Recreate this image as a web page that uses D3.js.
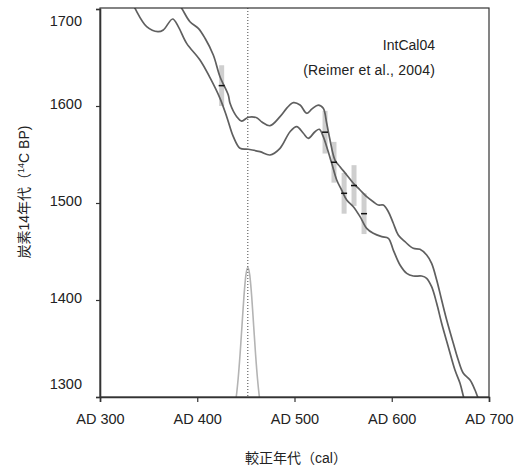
<!DOCTYPE html>
<html>
<head>
<meta charset="utf-8">
<script src="https://cdn.jsdelivr.net/npm/d3@7"></script>
<style>
  html, body { margin: 0; padding: 0; background: #fff; }
  svg { display: block; }
  text { font-family: "Liberation Sans", Arial, "Noto Sans CJK JP", sans-serif; fill: #222; }
</style>
</head>
<body>
<svg id="chart" width="516" height="465"></svg>
<script>
// Calibrated age axis (AD) and radiocarbon age axis (14C BP)
const xTicks = [300, 400, 500, 600, 700];
const yTicks = [1300, 1400, 1500, 1600, 1700];

// IntCal04 calibration band: upper edge (year, 14C BP)
const bandUpperYears = [378, 384, 392.5, 401.1, 408, 416.5, 423.4, 431.9, 433.7, 440.6, 445.7, 452.5, 461.1, 466.5, 474.8, 485.1, 492.3, 498.8, 505.7, 512.6, 518, 524.5, 529.6, 533.1, 536.5, 541.6, 546.8, 553.7, 560.5, 567.4, 574.2, 581, 586.2, 591.3, 596.5, 601.6, 606.7, 613.6, 622.1, 629, 635.9, 641, 646.2, 651.3, 656.5, 663.3, 668.4, 673.6, 680.5, 685.6, 688, 690.7];
const bandUpperValues = [1709, 1700.7, 1686.9, 1680.1, 1669.8, 1652.6, 1630.2, 1611.3, 1602.8, 1589, 1584.5, 1588.4, 1587.9, 1583.5, 1579.7, 1589, 1598, 1603.4, 1601, 1592.5, 1597, 1601, 1597.6, 1582.2, 1565, 1544.3, 1537.4, 1528.9, 1520.3, 1513.4, 1506.5, 1501.3, 1497.9, 1497.9, 1491, 1479.1, 1467, 1460.1, 1453.3, 1452.3, 1446.4, 1437.8, 1420.6, 1400, 1379.4, 1355.4, 1338.1, 1324.4, 1317.5, 1307.2, 1301, 1294.8];

// IntCal04 calibration band: lower edge (year, 14C BP)
const bandLowerYears = [331.9, 336, 348, 359.6, 365.1, 374.7, 380.5, 389.1, 402.8, 413.1, 423.4, 430.3, 437.1, 444, 452.5, 464.5, 474.8, 485.1, 495.4, 502.3, 509.1, 514.2, 521.1, 525.5, 529.6, 533.1, 538.3, 543.4, 548.4, 553.7, 560.5, 567.4, 574.2, 581, 589.7, 596.5, 601.6, 608.5, 615.4, 622.1, 630.7, 635.9, 641, 646.2, 651.3, 658.1, 665, 670.2, 673.6, 675.3];
const bandLowerValues = [1709, 1700.6, 1681.8, 1676.6, 1678.4, 1689.7, 1681.8, 1664.6, 1647.4, 1629.2, 1607.9, 1589, 1568.4, 1556.4, 1555.4, 1552.9, 1549.5, 1556.4, 1573.5, 1578.7, 1571.9, 1566.7, 1573.5, 1576, 1568.4, 1558, 1540.9, 1523.7, 1513.4, 1503.1, 1496.2, 1485.9, 1473.9, 1468.8, 1465.3, 1463.6, 1451.5, 1436.1, 1427.5, 1424.7, 1424.7, 1422.4, 1413.7, 1396.6, 1376, 1351.9, 1327.8, 1314.1, 1301, 1294.8];

// Measured samples: calendar position, 14C age and 1-sigma error
const sampleYears = [425.1, 531.4, 540.6, 551, 561.2, 571.5];
const sampleAges = [1621, 1573, 1542, 1510, 1518, 1489];
const sampleErrors = [21, 22, 21, 21, 21, 21];

// Calibrated date probability (relative) and the best-fit date
const probYears = [436, 438, 440, 442, 444, 446, 448, 450, 452, 454, 456, 458, 460, 462, 464, 466, 468];
const probValues = [0.035, 0.076, 0.15, 0.27, 0.43, 0.62, 0.81, 0.95, 1.0, 0.95, 0.81, 0.62, 0.43, 0.27, 0.15, 0.076, 0.035];
const bestDate = 452;

const svg = d3.select("#chart");
const plotLeft = 100, plotRight = 489, plotTop = 8, plotBottom = 397;

const x = d3.scaleLinear().domain([300, 700]).range([plotLeft, plotRight]);
const y = d3.scaleLinear().domain([1300, 1700]).range([plotBottom, plotTop + 1]);
// probability curve sits on its own scale whose zero lies below the frame
const yProb = d3.scaleLinear().domain([0, 1]).range([420.6, 267.5]);

svg.append("defs").append("clipPath").attr("id", "plot-clip")
  .append("rect").attr("x", plotLeft).attr("y", plotTop)
  .attr("width", plotRight - plotLeft).attr("height", plotBottom - plotTop);

const plot = svg.append("g").attr("clip-path", "url(#plot-clip)");

// error bars of the samples
plot.selectAll("rect.err").data(sampleYears).enter().append("rect")
  .attr("class", "err")
  .attr("x", d => x(d) - 2.5)
  .attr("width", 5)
  .attr("y", (d, i) => y(sampleAges[i] + sampleErrors[i]))
  .attr("height", (d, i) => y(sampleAges[i] - sampleErrors[i]) - y(sampleAges[i] + sampleErrors[i]))
  .attr("fill", "#cfcfcf");

// probability distribution
const probLine = d3.line().x((d, i) => x(probYears[i])).y(d => yProb(d)).curve(d3.curveMonotoneX);
plot.append("path").datum(probValues).attr("d", probLine)
  .attr("fill", "none").attr("stroke", "#b4b4b4").attr("stroke-width", 1.6);

// best-fit date marker
plot.append("line")
  .attr("x1", x(bestDate)).attr("x2", x(bestDate))
  .attr("y1", plotTop).attr("y2", plotBottom)
  .attr("stroke", "#444").attr("stroke-width", 1).attr("stroke-dasharray", "1,2");

// calibration band edges
const bandLine = yrs => d3.line().x((d, i) => x(yrs[i])).y(d => y(d)).curve(d3.curveCatmullRom.alpha(0.5));
plot.append("path").datum(bandUpperValues).attr("d", bandLine(bandUpperYears))
  .attr("fill", "none").attr("stroke", "#5f5f5f").attr("stroke-width", 1.7);
plot.append("path").datum(bandLowerValues).attr("d", bandLine(bandLowerYears))
  .attr("fill", "none").attr("stroke", "#5f5f5f").attr("stroke-width", 1.7);

// sample mean markers
plot.selectAll("line.mean").data(sampleYears).enter().append("line")
  .attr("class", "mean")
  .attr("x1", d => x(d) - 3).attr("x2", d => x(d) + 3)
  .attr("y1", (d, i) => y(sampleAges[i])).attr("y2", (d, i) => y(sampleAges[i]))
  .attr("stroke", "#111").attr("stroke-width", 1.5);

// frame
svg.append("rect").attr("x", plotLeft).attr("y", plotTop)
  .attr("width", plotRight - plotLeft).attr("height", plotBottom - plotTop)
  .attr("fill", "none").attr("stroke", "#333").attr("stroke-width", 1.2);

// axes
const xAxis = svg.append("g").attr("transform", `translate(0,${plotBottom})`)
  .call(d3.axisBottom(x).tickValues(xTicks).tickSize(5).tickPadding(12).tickFormat(d => "AD " + d));
const yAxis = svg.append("g").attr("transform", `translate(${plotLeft},0)`)
  .call(d3.axisLeft(y).tickValues(yTicks).tickSize(4).tickPadding(14).tickFormat(d3.format("d")));

[xAxis, yAxis].forEach(g => {
  g.select(".domain").attr("stroke", "#333").attr("stroke-width", 1.6);
  g.selectAll(".tick line").attr("stroke", "#333").attr("stroke-width", 1.2);
  g.selectAll(".tick text").attr("font-size", 14.5).attr("fill", "#222")
    .attr("font-family", "'Liberation Sans', Arial, sans-serif");
});
// end labels of the age axis sit inside the frame
yAxis.selectAll(".tick text").attr("dy", d => d === 1300 ? "-0.6em" : d === 1700 ? "1.12em" : "0.2em");

// legend text
svg.append("text").attr("x", 435).attr("y", 50).attr("text-anchor", "end")
  .attr("font-size", 14).text("IntCal04");
svg.append("text").attr("x", 435).attr("y", 75).attr("text-anchor", "end")
  .attr("font-size", 14).attr("letter-spacing", 0.2).text("(Reimer et al., 2004)");

// axis titles
svg.append("text").attr("x", 296).attr("y", 463).attr("text-anchor", "middle")
  .attr("font-size", 14).text("較正年代（cal）");

const yTitle = svg.append("text")
  .attr("transform", "translate(29,192) rotate(-90)")
  .attr("text-anchor", "middle").attr("font-size", 14);
yTitle.append("tspan").text("炭素14年代（");
yTitle.append("tspan").attr("font-size", 9).attr("dy", -5).text("14");
yTitle.append("tspan").attr("dy", 5).text("C BP)");
</script>
</body>
</html>
